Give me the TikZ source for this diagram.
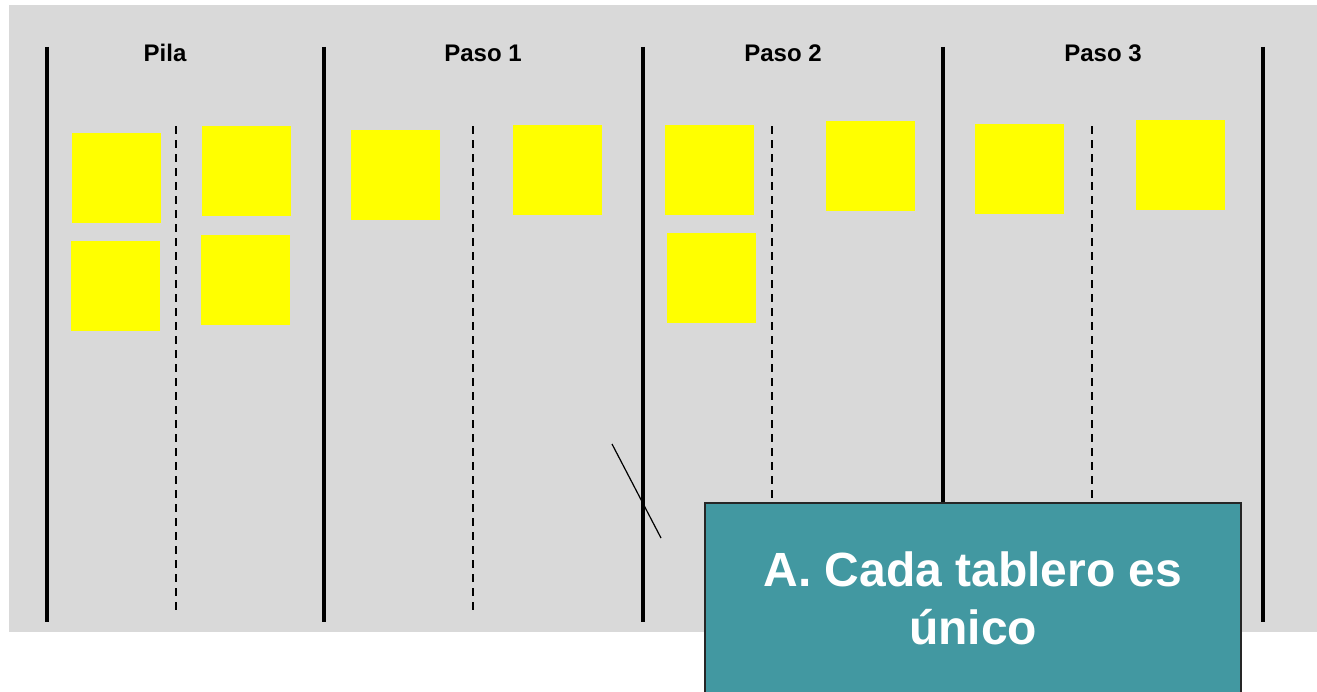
\documentclass[tikz,border=0pt]{standalone}
\usepackage{fontspec}
\setmainfont{Liberation Sans}
\usetikzlibrary{positioning}
\definecolor{tablero}{HTML}{D9D9D9}
\definecolor{petroleo}{HTML}{4298A1}
\definecolor{amarillo}{RGB}{255,255,0}

\begin{document}
\begin{tikzpicture}[
        x=0.75pt, y=-0.75pt,
        nota/.style={fill=amarillo, anchor=north west, inner sep=0pt,
          minimum width=66.75pt, minimum height=67.5pt},
        titulo/.style={font=\fontsize{18}{22}\selectfont\bfseries, anchor=base},
        columna/.style={line width=2.3pt},
        carril/.style={line width=1.5pt, dash pattern=on 6pt off 4.5pt},
        aviso/.style={draw=black!85, line width=1.2pt, fill=petroleo, text=white,
          align=center, font=\fontsize{36}{43.5}\selectfont\bfseries,
          minimum width=402pt, minimum height=143.25pt},
        ]

        \useasboundingbox (0,0) rectangle (1317,692);
        \clip (0,0) rectangle (1317,692);

        % fondo del tablero
        \fill[tablero] (9,5) rectangle (1317,632);

        % columnas y carriles
        \draw[columna] (47,47) -- (47,622);
        \draw[columna] (324,47) -- (324,622);
        \draw[columna] (643,47) -- (643,622);
        \draw[columna] (943,47) -- (943,622);
        \draw[columna] (1263,47) -- (1263,622);
        \draw[carril] (176,126) -- (176,610);
        \draw[carril] (473,126) -- (473,610);
        \draw[carril] (772,126) -- (772,610);
        \draw[carril] (1092,126) -- (1092,610);

        \node[titulo] (pila)  at (165,62)  {Pila};
        \node[titulo] (paso1) at (483,62)  {Paso 1};
        \node[titulo] (paso2) at (783,62)  {Paso 2};
        \node[titulo] (paso3) at (1103,62) {Paso 3};

        % notas
        \node[nota] (p_1) at (72,133)   {};
        \node[nota] (p_2) at (202,126)  {};
        \node[nota] (p_3) at (71,241)   {};
        \node[nota] (p_4) at (201,235)  {};
        \node[nota] (a_1) at (351,130)  {};
        \node[nota] (a_2) at (513,125)  {};
        \node[nota] (b_1) at (665,125)  {};
        \node[nota] (b_2) at (826,121)  {};
        \node[nota] (b_3) at (667,233)  {};
        \node[nota] (c_1) at (975,124)  {};
        \node[nota] (c_2) at (1136,120) {};

        \draw[line width=0.9pt] (612,444) coordinate (t_a) -- (661,538) coordinate (t_b);

        \node[aviso] (unico) at (973,598.5) {A. Cada tablero es\\ único};
      \end{tikzpicture}
\end{document}
